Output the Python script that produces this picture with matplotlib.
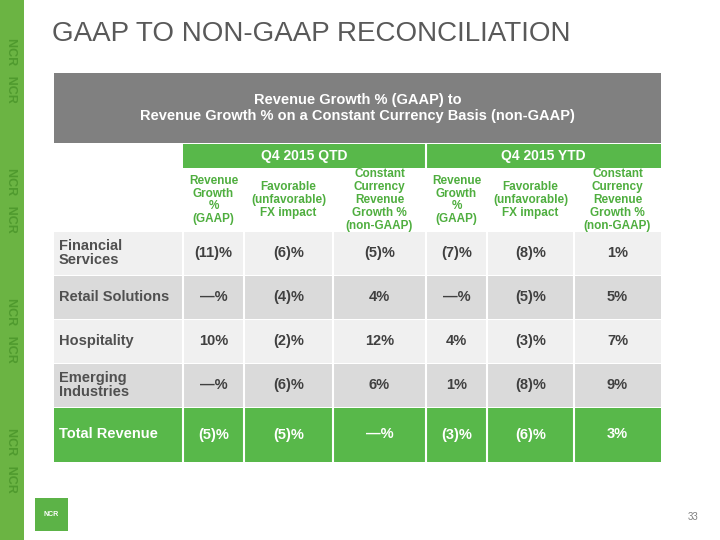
import matplotlib.pyplot as plt
from matplotlib.patches import Rectangle

plt.rcParams['font.family'] = ['Liberation Sans', 'DejaVu Sans']

# table content
title = "GAAP TO NON-GAAP RECONCILIATION"
header = "Revenue Growth % (GAAP) to\nRevenue Growth % on a Constant Currency Basis (non-GAAP)"
periods = ["Q4 2015 QTD", "Q4 2015 YTD"]
sub_headers = ["Revenue\nGrowth\n%\n(GAAP)", "Favorable\n(unfavorable)\nFX impact",
               "Constant\nCurrency\nRevenue\nGrowth %\n(non-GAAP)"] * 2
row_labels = ["Financial\nServices", "Retail Solutions", "Hospitality",
              "Emerging\nIndustries", "Total Revenue"]
values = [
    ["(11)%", "(6)%", "(5)%", "(7)%", "(8)%", "1%"],
    ["\u2014%", "(4)%", "4%", "\u2014%", "(5)%", "5%"],
    ["10%", "(2)%", "12%", "4%", "(3)%", "7%"],
    ["\u2014%", "(6)%", "6%", "1%", "(8)%", "9%"],
    ["(5)%", "(5)%", "\u2014%", "(3)%", "(6)%", "3%"],
]

# layout in pixels
col_edges = [54, 183, 244, 333, 426, 487, 574, 661]
row_edges = [232, 276, 320, 364, 408, 463]
green = "#58b84a"
dark = "#404040"

fig = plt.figure(figsize=(7.2, 5.4), dpi=100)
ax = fig.add_axes([0, 0, 1, 1])
ax.set_xlim(0, 720)
ax.set_ylim(540, 0)
ax.axis("off")

# left decoration strip
ax.add_patch(Rectangle((0, 0), 24, 540, color="#6bb443", lw=0))
for y0 in [70, 200, 330, 460]:
    ax.text(11, y0, "NCR   NCR", rotation=-90, color="#4f9a2e",
            fontsize=9, fontweight="bold", ha="center", va="center")

# logo
ax.add_patch(Rectangle((35, 498), 33, 33, color="#5cb347", lw=0))
ax.text(51.5, 514.5, "NCR", color="white", fontsize=5, fontweight="bold",
        ha="center", va="center")

ax.text(52, 34, title, fontsize=20, color="#595959", va="center", ha="left")
ax.text(698, 517, "33", fontsize=7, color="#7f7f7f", ha="right", va="center")

# gray header
ax.add_patch(Rectangle((54, 73), 661 - 54, 70, color="#808080", lw=0))
ax.text((54 + 661) / 2, 108, header, color="white", fontsize=10.5,
        fontweight="bold", ha="center", va="center", linespacing=1.15)

# period header
for i, p in enumerate(periods):
    x0, x1 = col_edges[1 + 3 * i], col_edges[4 + 3 * i]
    ax.add_patch(Rectangle((x0, 144), x1 - x0, 24, color=green, lw=0))
    ax.text((x0 + x1) / 2, 156, p, color="white", fontsize=10,
            fontweight="bold", ha="center", va="center")
ax.plot([426, 426], [144, 168], color="white", lw=1.5)

# sub headers
for j, s in enumerate(sub_headers):
    xc = (col_edges[j + 1] + col_edges[j + 2]) / 2
    ax.text(xc, 200, s, color="#4fae3f", fontsize=8.5, fontweight="bold",
            ha="center", va="center", linespacing=1.1)

# body
for r, (lab, vals) in enumerate(zip(row_labels, values)):
    y0, y1 = row_edges[r], row_edges[r + 1]
    last = r == len(row_labels) - 1
    if last:
        bg, fg = green, "white"
    else:
        bg = "#f0f0f0" if r % 2 == 0 else "#dadada"
        fg = dark
    ax.add_patch(Rectangle((54, y0), 661 - 54, y1 - y0 - 1, color=bg, lw=0))
    yc = (y0 + y1) / 2 - 1
    ax.text(59, yc, lab, color=fg if last else "#505050", fontsize=10.5,
            fontweight="bold", ha="left", va="center", linespacing=1.0)
    for j, v in enumerate(vals):
        xc = (col_edges[j + 1] + col_edges[j + 2]) / 2
        ax.text(xc, yc, v, color=fg, fontsize=10.5, fontweight="bold",
                ha="center", va="center")

# white cell separators
for x in col_edges[1:-1]:
    ax.plot([x, x], [232, 463], color="white", lw=1.5)

fig.savefig("out.png", dpi=100)
